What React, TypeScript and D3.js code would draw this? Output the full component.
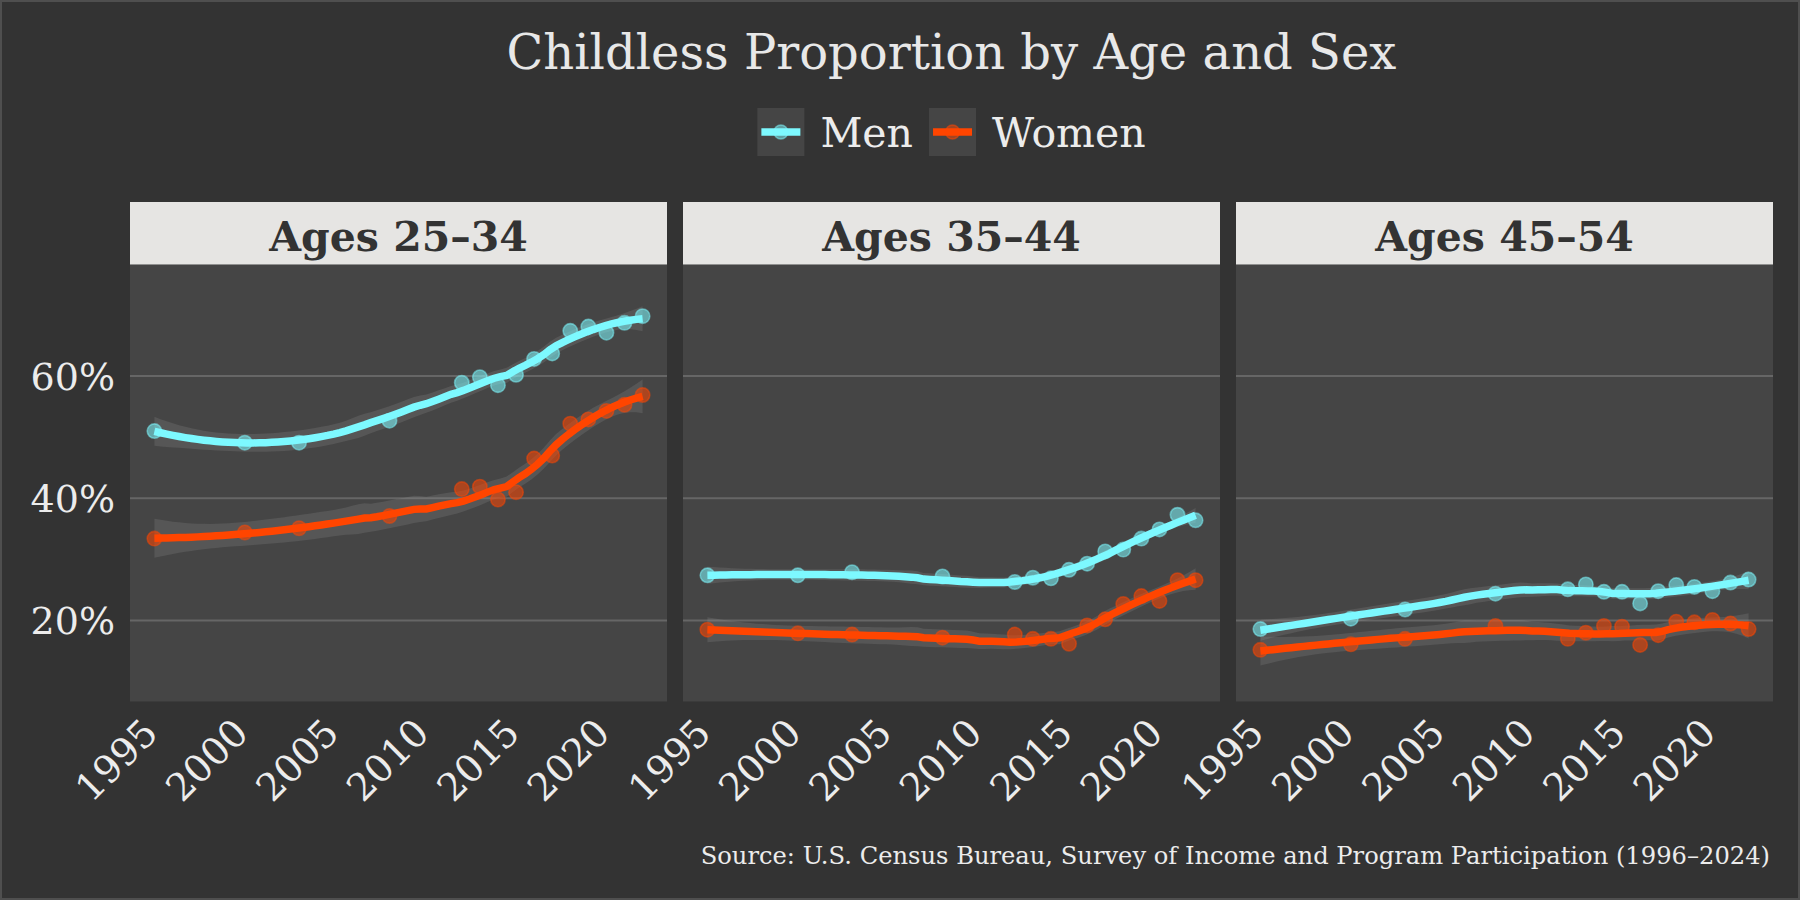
import { useEffect, useRef } from "react"
import * as d3 from "d3"

// survey years (SIPP)
const years = [1996, 2001, 2004, 2009, 2013, 2014, 2015, 2016, 2017, 2018, 2019, 2020, 2021, 2022, 2023]
const ageGroups = ["Ages 25–34", "Ages 35–44", "Ages 45–54"]
const sexes = ["Men", "Women"]
const sexColors = ["#7df9ff", "#ff4500"]

// childless share, percent
const men2534 = [51.0, 49.1, 49.1, 52.7, 58.9, 59.8, 58.5, 60.2, 62.8, 63.7, 67.4, 68.1, 67.1, 68.7, 69.8]
const women2534 = [33.4, 34.4, 35.1, 37.1, 41.5, 41.9, 39.8, 41.0, 46.5, 47.0, 52.2, 52.9, 54.3, 55.3, 56.9]
const men3544 = [27.4, 27.4, 27.9, 27.2, 26.3, 27.0, 26.9, 28.3, 29.3, 31.3, 31.6, 33.4, 34.9, 37.3, 36.4]
const women3544 = [18.5, 17.9, 17.7, 17.2, 17.7, 17.0, 17.0, 16.2, 19.2, 20.2, 22.7, 24.0, 23.2, 26.6, 26.6]
const men4554 = [18.6, 20.3, 21.8, 24.4, 25.1, 25.9, 24.7, 24.7, 22.8, 24.8, 25.8, 25.5, 24.8, 26.2, 26.7]
const women4554 = [15.2, 16.1, 17.0, 19.1, 17.0, 18.0, 19.1, 19.0, 16.0, 17.6, 19.8, 19.7, 20.1, 19.5, 18.6]

const panelSeries = [
  [men2534, women2534],
  [men3544, women3544],
  [men4554, women4554],
]

const xTicks = [1995, 2000, 2005, 2010, 2015, 2020]
const yTicks = [0.2, 0.4, 0.6]
const yLimits = [0.1, 0.75]

const title = "Childless Proportion by Age and Sex"
const caption = "Source: U.S. Census Bureau, Survey of Income and Program Participation (1996–2024)"

const FONT = "'DejaVu Serif', serif"

// --- loess (degree 2, tricube, span .75) with standard errors, like geom_smooth
function invert3(m: number[][]) {
  const [a, b, c] = m[0]
  const [d, e, f] = m[1]
  const [g, h, i] = m[2]
  const A = e * i - f * h
  const B = -(d * i - f * g)
  const C = d * h - e * g
  const det = a * A + b * B + c * C
  return [
    [A / det, -(b * i - c * h) / det, (b * f - c * e) / det],
    [B / det, (a * i - c * g) / det, -(a * f - c * d) / det],
    [C / det, -(a * h - b * g) / det, (a * e - b * d) / det],
  ]
}

function tQuantile975(df: number) {
  const z = 1.959964
  return (
    z +
    (z ** 3 + z) / (4 * df) +
    (5 * z ** 5 + 16 * z ** 3 + 3 * z) / (96 * df ** 2) +
    (3 * z ** 7 + 19 * z ** 5 + 17 * z ** 3 - 15 * z) / (384 * df ** 3)
  )
}

function loess(xs: number[], ys: number[], span = 0.75, nOut = 80) {
  const n = xs.length
  const q = Math.floor(n * span)
  const row = (x0: number) => {
    const dist = xs.map((x) => Math.abs(x - x0))
    const h = [...dist].sort((a, b) => a - b)[q - 1] * 1.0000001
    const w = dist.map((d) => {
      const u = d / h
      return u < 1 ? (1 - u ** 3) ** 3 : 0
    })
    const s = [0, 0, 0, 0, 0]
    xs.forEach((x, k) => {
      const dx = x - x0
      for (let p = 0; p < 5; p++) s[p] += w[k] * dx ** p
    })
    const inv = invert3([
      [s[0], s[1], s[2]],
      [s[1], s[2], s[3]],
      [s[2], s[3], s[4]],
    ])
    return xs.map((x, k) => {
      const dx = x - x0
      return w[k] * (inv[0][0] + inv[0][1] * dx + inv[0][2] * dx * dx)
    })
  }
  const L = xs.map(row)
  const fitted = L.map((l) => d3.sum(l, (v, k) => v * ys[k]))
  const rss = d3.sum(fitted, (f, k) => (ys[k] - f) ** 2)
  // B = (I-L)'(I-L)
  const A = L.map((l, r) => l.map((v, c) => (r === c ? 1 : 0) - v))
  const B = d3.range(n).map((r) => d3.range(n).map((c) => d3.sum(d3.range(n), (k) => A[k][r] * A[k][c])))
  const delta1 = d3.sum(d3.range(n), (k) => B[k][k])
  const delta2 = d3.sum(B.flat(), (v) => v * v)
  const sigma = Math.sqrt(rss / delta1)
  const t = tQuantile975((delta1 * delta1) / delta2)
  const [lo, hi] = d3.extent(xs) as [number, number]
  return d3.range(nOut).map((j) => {
    const x = lo + ((hi - lo) * j) / (nOut - 1)
    const l = row(x)
    const y = d3.sum(l, (v, k) => v * ys[k])
    const se = sigma * Math.sqrt(d3.sum(l, (v) => v * v))
    return { x, y, ymin: y - t * se, ymax: y + t * se }
  })
}

export default function App() {
  const svgRef = useRef<SVGSVGElement>(null)

  useEffect(() => {
    document.body.style.margin = "0"
    document.body.style.background = "#333333"
    if (!svgRef.current) return
    const svg = d3.select(svgRef.current)
    svg.selectAll("*").remove()

    const width = 1800
    const height = 900
    const panelTop = 264.5
    const panelBottom = 701.5
    const stripTop = 202
    const panelW = 537
    const panelGap = 16
    const panelLeft0 = 130
    const textColor = "#ececec"

    svg
      .append("rect")
      .attr("x", 1)
      .attr("y", 1)
      .attr("width", width - 2)
      .attr("height", height - 2)
      .attr("fill", "#333333")
      .attr("stroke", "#4f4f4f")
      .attr("stroke-width", 2)

    const plotCenter = (panelLeft0 + panelLeft0 + 3 * panelW + 2 * panelGap) / 2

    // title
    svg
      .append("text")
      .attr("x", plotCenter)
      .attr("y", 69)
      .attr("text-anchor", "middle")
      .attr("font-family", FONT)
      .attr("font-size", 48)
      .attr("fill", "#e8e8e8")
      .text(title)

    // legend
    const legendFont = 41
    const keyW = 47
    const keyH = 48
    const keyTop = 108
    const legend = svg.append("g")
    let cursor = 0
    sexes.forEach((s, i) => {
      const g = legend.append("g").attr("transform", `translate(${cursor},0)`)
      g.append("rect").attr("x", 0).attr("y", keyTop).attr("width", keyW).attr("height", keyH).attr("fill", "#454545")
      g.append("line")
        .attr("x1", 4)
        .attr("x2", keyW - 4)
        .attr("y1", keyTop + keyH / 2)
        .attr("y2", keyTop + keyH / 2)
        .attr("stroke", sexColors[i])
        .attr("stroke-width", 7.5)
      g.append("circle")
        .attr("cx", keyW / 2)
        .attr("cy", keyTop + keyH / 2)
        .attr("r", 7)
        .attr("fill", sexColors[i])
        .attr("fill-opacity", 0.5)
        .attr("stroke", sexColors[i])
        .attr("stroke-opacity", 0.5)
        .attr("stroke-width", 1.5)
      const txt = g
        .append("text")
        .attr("x", keyW + 16)
        .attr("y", keyTop + keyH / 2 + legendFont * 0.365)
        .attr("font-family", FONT)
        .attr("font-size", legendFont)
        .attr("fill", textColor)
        .text(s)
      const tw = (txt.node() as SVGTextElement).getComputedTextLength()
      cursor += keyW + 16 + tw + 16
    })
    const legendW = cursor - 16
    legend.attr("transform", `translate(${plotCenter - legendW / 2},0)`)

    const y = d3
      .scaleLinear()
      .domain([yLimits[0] - 0.05 * (yLimits[1] - yLimits[0]), yLimits[1] + 0.05 * (yLimits[1] - yLimits[0])])
      .range([panelBottom, panelTop])

    const [xMin, xMax] = d3.extent(years) as [number, number]
    const xPad = 0.05 * (xMax - xMin)

    ageGroups.forEach((label, p) => {
      const left = panelLeft0 + p * (panelW + panelGap)
      const x = d3
        .scaleLinear()
        .domain([xMin - xPad, xMax + xPad])
        .range([left, left + panelW])

      const g = svg.append("g")
      g.append("rect")
        .attr("x", left)
        .attr("y", panelTop)
        .attr("width", panelW)
        .attr("height", panelBottom - panelTop)
        .attr("fill", "#454545")

      g.selectAll("line.grid")
        .data(yTicks)
        .join("line")
        .attr("class", "grid")
        .attr("x1", left)
        .attr("x2", left + panelW)
        .attr("y1", (d) => y(d))
        .attr("y2", (d) => y(d))
        .attr("stroke", "#666666")
        .attr("stroke-width", 2)

      // strip
      g.append("rect")
        .attr("x", left)
        .attr("y", stripTop)
        .attr("width", panelW)
        .attr("height", panelTop - stripTop)
        .attr("fill", "#e6e5e3")
      g.append("text")
        .attr("x", left + panelW / 2)
        .attr("y", (stripTop + panelTop) / 2 + 41 * 0.365 + 3)
        .attr("text-anchor", "middle")
        .attr("font-family", FONT)
        .attr("font-weight", "bold")
        .attr("font-size", 41)
        .attr("fill", "#333333")
        .text(label)

      const clipId = `clip-${p}`
      svg
        .append("clipPath")
        .attr("id", clipId)
        .append("rect")
        .attr("x", left)
        .attr("y", panelTop)
        .attr("width", panelW)
        .attr("height", panelBottom - panelTop)
      const marks = g.append("g").attr("clip-path", `url(#${clipId})`)

      const fits = panelSeries[p].map((vals) => loess(years, vals.map((v) => v / 100)))

      // ribbons
      fits.forEach((fit) => {
        marks
          .append("path")
          .datum(fit)
          .attr(
            "d",
            d3
              .area<{ x: number; ymin: number; ymax: number }>()
              .x((d) => x(d.x))
              .y0((d) => y(d.ymin))
              .y1((d) => y(d.ymax))
          )
          .attr("fill", "#999999")
          .attr("fill-opacity", 0.2)
      })

      // points
      panelSeries[p].forEach((vals, s) => {
        marks
          .selectAll(`circle.s${s}`)
          .data(vals)
          .join("circle")
          .attr("class", `s${s}`)
          .attr("cx", (_, k) => x(years[k]))
          .attr("cy", (d) => y(d / 100))
          .attr("r", 7.2)
          .attr("fill", sexColors[s])
          .attr("fill-opacity", 0.55)
          .attr("stroke", sexColors[s])
          .attr("stroke-opacity", 0.5)
          .attr("stroke-width", 1.6)
      })

      // smooth lines
      fits.forEach((fit, s) => {
        marks
          .append("path")
          .datum(fit)
          .attr(
            "d",
            d3
              .line<{ x: number; y: number }>()
              .x((d) => x(d.x))
              .y((d) => y(d.y))
          )
          .attr("fill", "none")
          .attr("stroke", sexColors[s])
          .attr("stroke-width", 7.5)
          .attr("stroke-linecap", "butt")
      })

      // x tick labels, rotated 45
      g.selectAll("g.xtick")
        .data(xTicks)
        .join("g")
        .attr("class", "xtick")
        .attr("transform", (d) => `translate(${x(d) + 4},${panelBottom + 14}) rotate(-45)`)
        .append("text")
        .attr("text-anchor", "end")
        .attr("dy", "0.73em")
        .attr("font-family", FONT)
        .attr("font-size", 38)
        .attr("fill", textColor)
        .text((d) => d)

      if (p === 0) {
        g.selectAll("text.ytick")
          .data(yTicks)
          .join("text")
          .attr("class", "ytick")
          .attr("x", left - 15)
          .attr("y", (d) => y(d) + 38 * 0.365)
          .attr("text-anchor", "end")
          .attr("font-family", FONT)
          .attr("font-size", 38)
          .attr("fill", textColor)
          .text((d) => d3.format(".0%")(d))
      }
    })

    svg
      .append("text")
      .attr("x", panelLeft0 + 3 * panelW + 2 * panelGap - 3)
      .attr("y", 864)
      .attr("text-anchor", "end")
      .attr("font-family", FONT)
      .attr("font-size", 24.2)
      .attr("fill", textColor)
      .text(caption)
  }, [])

  return <svg ref={svgRef} width={1800} height={900} style={{ display: "block" }} />
}
